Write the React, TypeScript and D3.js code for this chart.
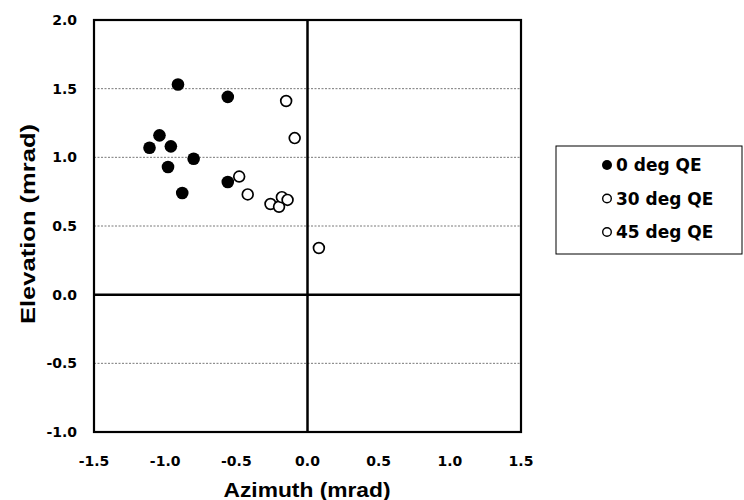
import React from "react";
import * as d3 from "d3";

// Impact offsets (mrad) by quadrant elevation
const qe0Az = [-0.91, -0.56, -1.04, -1.11, -0.96, -0.80, -0.98, -0.88, -0.56];
const qe0El = [1.53, 1.44, 1.16, 1.07, 1.08, 0.99, 0.93, 0.74, 0.82];
const qe30Az = [-0.15, -0.09, -0.48, -0.42];
const qe30El = [1.41, 1.14, 0.86, 0.73];
const qe45Az = [-0.26, -0.20, -0.18, -0.14, 0.08];
const qe45El = [0.66, 0.64, 0.71, 0.69, 0.34];

const xTicks = [-1.5, -1.0, -0.5, 0.0, 0.5, 1.0, 1.5];
const yTicks = [-1.0, -0.5, 0.0, 0.5, 1.0, 1.5, 2.0];
const gridValues = [-0.5, 0.5, 1.0, 1.5];
const legendLabels = ["0 deg QE", "30 deg QE", "45 deg QE"];

const W = 744;
const H = 500;
const left = 94;
const right = 521;
const top = 20;
const bottom = 432;

const tickFont = "'DejaVu Sans', Verdana, sans-serif";
const titleFont = "Arial, 'Liberation Sans', Helvetica, sans-serif";

// one decimal, plain hyphen for negatives
const fmt = (v: number) => d3.format(".1f")(v).replace("\u2212", "-");

export default function App() {
  const x = d3.scaleLinear().domain([-1.5, 1.5]).range([left, right]);
  const y = d3.scaleLinear().domain([-1.0, 2.0]).range([bottom, top]);

  const series = [
    { az: qe0Az, el: qe0El, filled: true },
    { az: qe30Az, el: qe30El, filled: false },
    { az: qe45Az, el: qe45El, filled: false },
  ];

  return (
    <svg
      width={W}
      height={H}
      style={{ position: "absolute", left: 0, top: 0, background: "#fff" }}
    >
      {/* dotted grid */}
      {gridValues.map((v) => (
        <line
          key={"g" + v}
          x1={left}
          x2={right}
          y1={y(v)}
          y2={y(v)}
          stroke="#555"
          strokeWidth={0.8}
          strokeDasharray="2,1.5"
        />
      ))}

      {/* zero axes */}
      <line x1={left} x2={right} y1={y(0)} y2={y(0)} stroke="#000" strokeWidth={2.5} />
      <line x1={x(0)} x2={x(0)} y1={top} y2={bottom} stroke="#000" strokeWidth={2.5} />

      {/* plot frame */}
      <rect
        x={left}
        y={top}
        width={right - left}
        height={bottom - top}
        fill="none"
        stroke="#000"
        strokeWidth={2.2}
      />

      {/* y tick labels */}
      {yTicks.map((v) => (
        <text
          key={"yt" + v}
          x={77}
          y={y(v)}
          dy="0.36em"
          textAnchor="end"
          fontSize={14}
          fontWeight="bold"
          fontFamily={tickFont}
        >
          {fmt(v)}
        </text>
      ))}

      {/* x tick labels */}
      {xTicks.map((v) => (
        <text
          key={"xt" + v}
          x={x(v)}
          y={460.5}
          dy="0.36em"
          textAnchor="middle"
          fontSize={14}
          fontWeight="bold"
          fontFamily={tickFont}
        >
          {fmt(v)}
        </text>
      ))}

      {/* axis titles */}
      <text
        x={307}
        y={490}
        dy="0.36em"
        textAnchor="middle"
        fontSize={20}
        fontWeight="bold"
        fontFamily={titleFont}
        textLength={167}
        lengthAdjust="spacingAndGlyphs"
      >
        Azimuth (mrad)
      </text>
      <text
        transform={`translate(28, 224) rotate(-90)`}
        dy="0.36em"
        textAnchor="middle"
        fontSize={20}
        fontWeight="bold"
        fontFamily={titleFont}
        textLength={200}
        lengthAdjust="spacingAndGlyphs"
      >
        Elevation (mrad)
      </text>

      {/* data points */}
      {series.map((s, si) =>
        s.az.map((a, i) => (
          <circle
            key={`p${si}-${i}`}
            cx={x(a)}
            cy={y(s.el[i])}
            r={s.filled ? 6.3 : 5.4}
            fill={s.filled ? "#000" : "#fff"}
            stroke="#000"
            strokeWidth={s.filled ? 0 : 1.7}
          />
        ))
      )}

      {/* legend */}
      <rect x={556} y={146} width={186} height={108} fill="#fff" stroke="#000" strokeWidth={1} />
      {legendLabels.map((lab, i) => {
        const cy = 165 + i * 33.5;
        const filled = i === 0;
        return (
          <g key={"lg" + i}>
            <circle
              cx={607}
              cy={cy}
              r={filled ? 5 : 4.3}
              fill={filled ? "#000" : "#fff"}
              stroke="#000"
              strokeWidth={filled ? 0 : 1.4}
            />
            <text
              x={616}
              y={cy}
              dy="0.36em"
              fontSize={17}
              fontWeight="bold"
              fontFamily={tickFont}
            >
              {lab}
            </text>
          </g>
        );
      })}
    </svg>
  );
}
